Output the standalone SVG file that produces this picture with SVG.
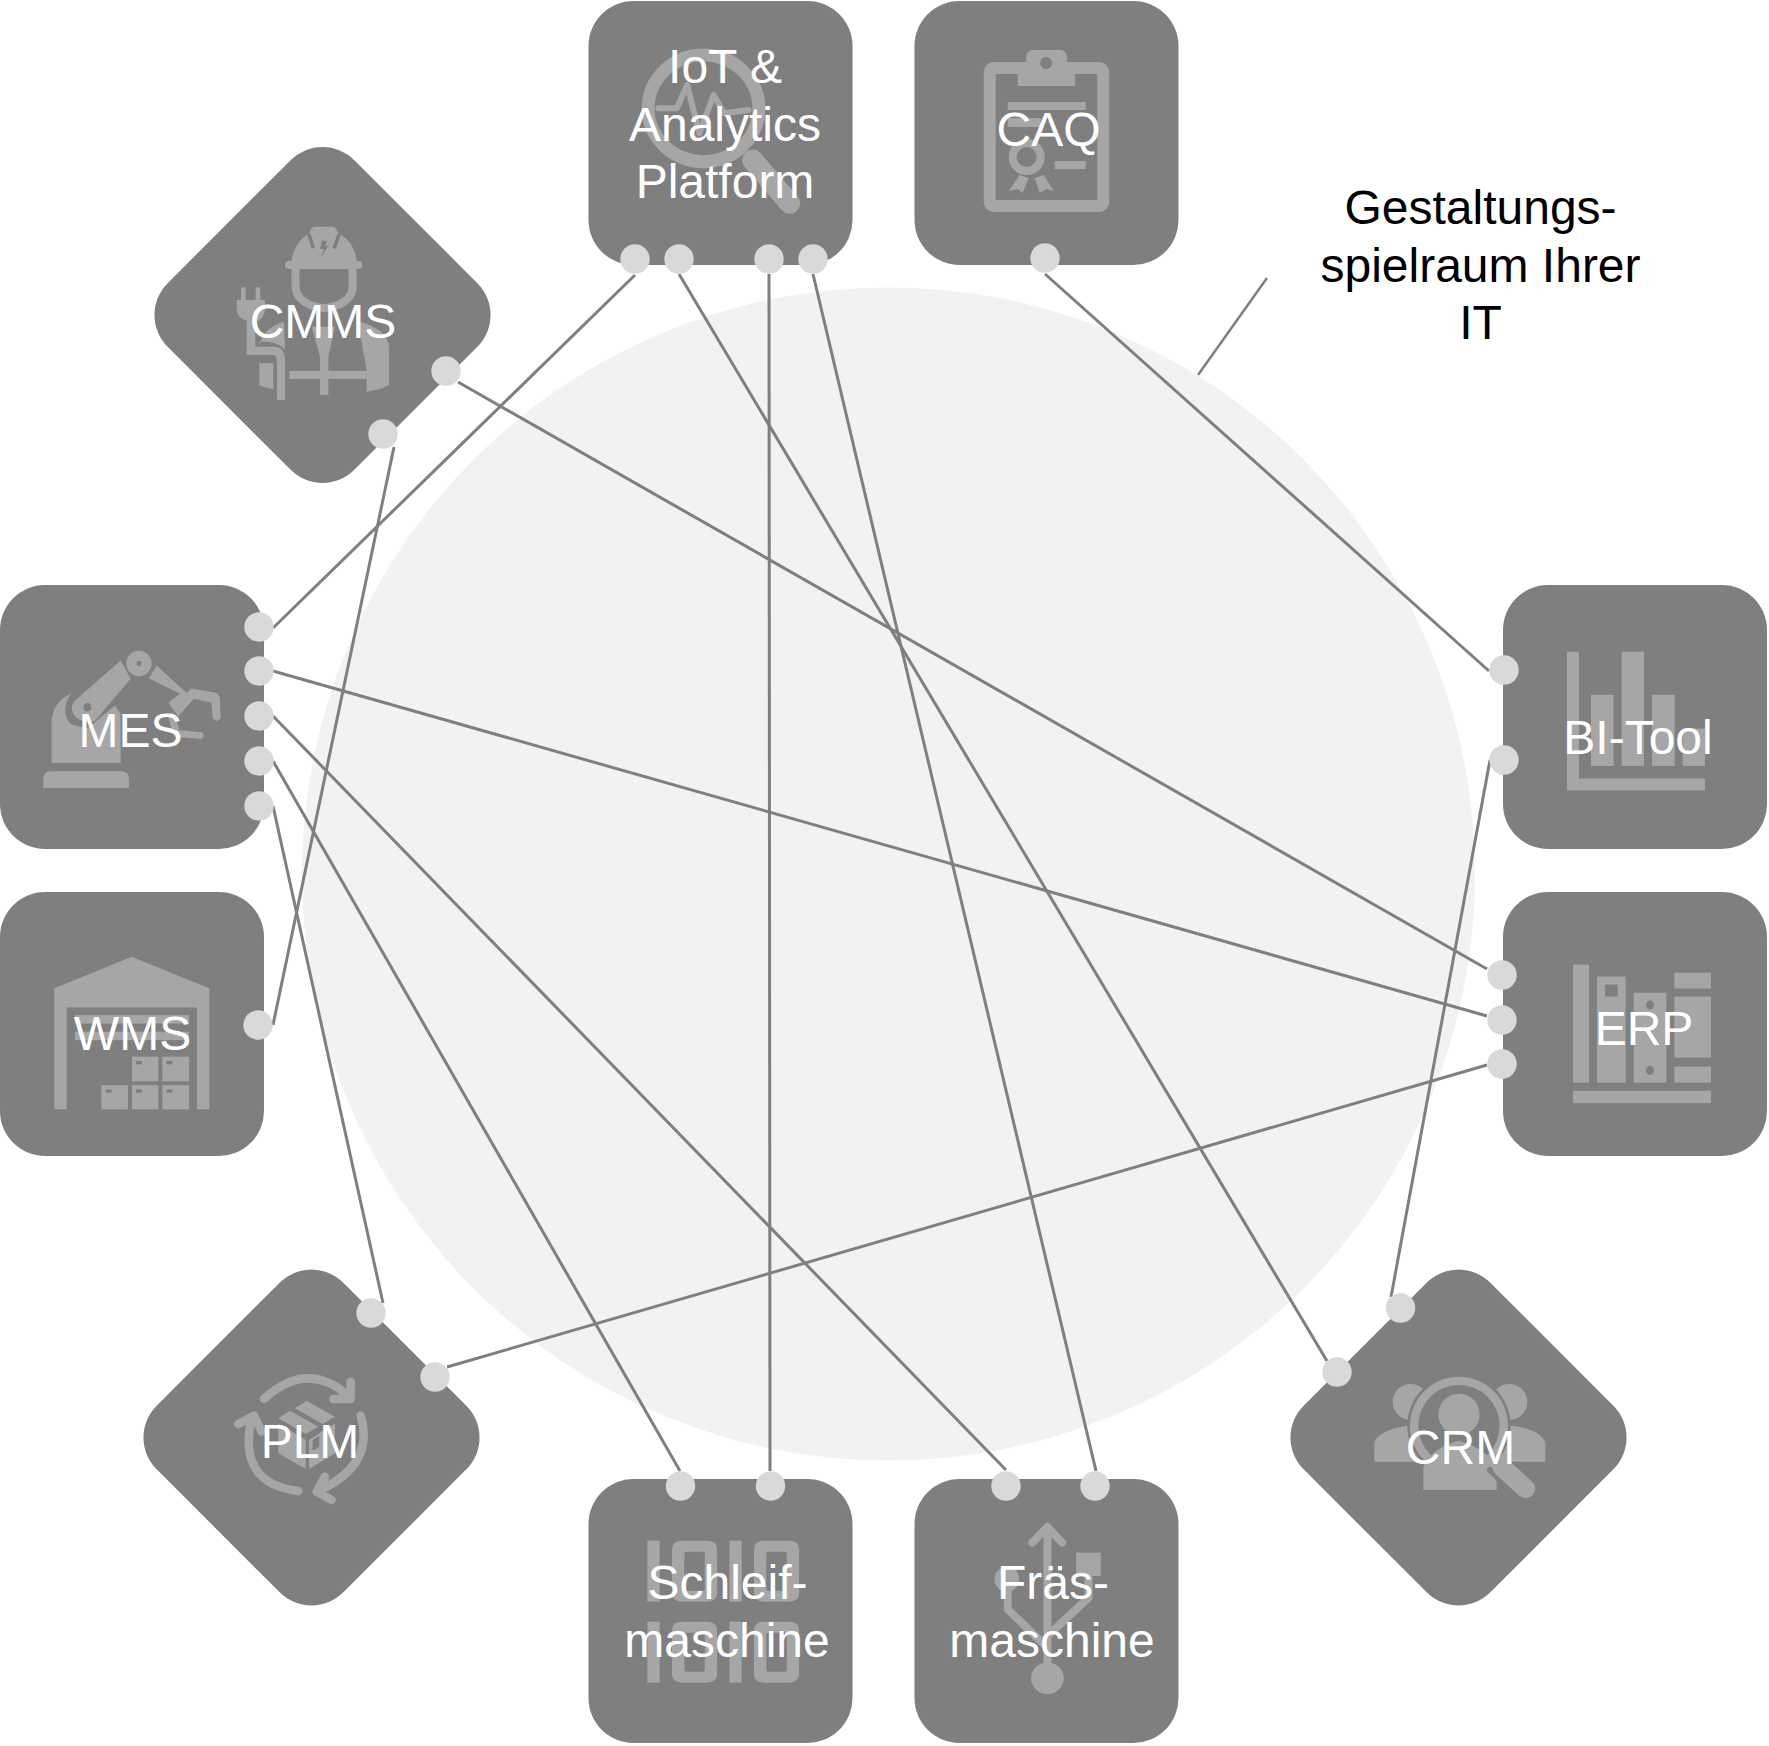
<svg xmlns="http://www.w3.org/2000/svg" width="1769" height="1746" viewBox="0 0 1769 1746">
<style>
.box{fill:#7f7f7f}
.dot{fill:#d9d9d9}
.conn line{stroke:#7f7f7f;stroke-width:3;fill:none}
.ico{fill:#a6a6a6}
.ico .s{fill:none;stroke:#a6a6a6;vector-effect:non-scaling-stroke;stroke-linecap:round;stroke-linejoin:round}
.ico .b{stroke-linecap:butt;stroke-linejoin:miter}
.ico .k{fill:#7f7f7f}
.ico .ks{fill:none;stroke:#7f7f7f;vector-effect:non-scaling-stroke}
text{font-family:"Liberation Sans",Arial,sans-serif;font-size:48px;text-anchor:middle}
.lbl{fill:#fff}
.ann{fill:#000}
</style>
<defs>
<rect id="sq" x="-132" y="-132" width="264" height="264" rx="45" ry="45"/>
<circle id="d" r="14.7"/>
</defs>
<circle id="scope" cx="888.5" cy="874" r="586.5" fill="#f2f2f2"/>
<g id="connectors" class="conn">
<line x1="635" y1="275" x2="273" y2="628"/>
<line x1="679" y1="274" x2="1327" y2="1361"/>
<line x1="769" y1="274" x2="770" y2="1471"/>
<line x1="813" y1="274" x2="1096" y2="1471"/>
<line x1="1045" y1="274" x2="1489" y2="671"/>
<line x1="458" y1="382" x2="1487" y2="969"/>
<line x1="394" y1="447" x2="273" y2="1025"/>
<line x1="273" y1="671" x2="1487" y2="1016"/>
<line x1="273" y1="716" x2="1006" y2="1470"/>
<line x1="273" y1="761" x2="680" y2="1471"/>
<line x1="273" y1="806" x2="383" y2="1303"/>
<line x1="447" y1="1367" x2="1487" y2="1065"/>
<line x1="1490" y1="760" x2="1391" y2="1297"/>
<line x1="1267" y1="278" x2="1198" y2="375" style="stroke-width:2.5"/>
</g>
<g id="node-iot">
<use href="#sq" class="box" x="720.5" y="133"/>
<g class="ico" transform="translate(560 0) scale(.41 .3333)">
<ellipse class="s" cx="350" cy="325" rx="135" ry="160" style="stroke-width:13"/>
<path class="s" style="stroke-width:6" d="M240 325H285L310 255L340 400L375 285L400 340L460 330"/>
<path class="s" style="stroke-width:21" d="M470 480L560 610"/>
</g>
<text class="lbl"><tspan x="725" y="83">IoT &amp;</tspan><tspan x="725" y="141">Analytics</tspan><tspan x="725" y="198">Platform</tspan></text>
<use href="#d" class="dot" x="635" y="259"/><use href="#d" class="dot" x="679" y="259"/><use href="#d" class="dot" x="769" y="259"/><use href="#d" class="dot" x="813" y="259"/>
</g>
<g id="node-caq">
<use href="#sq" class="box" x="1046.5" y="133"/>
<g class="ico" transform="translate(-2.300 0)">
<rect x="992" y="68" width="113.500" height="138" rx="4" style="fill:none;stroke:#a6a6a6;stroke-width:12"/>
<rect x="1028.500" y="50" width="41" height="20" rx="7"/>
<rect x="1020" y="62" width="57.500" height="24"/>
<circle class="k" cx="1048.500" cy="63" r="6"/>
<rect x="1010" y="102" width="78" height="8"/>
<rect x="1010" y="118" width="33" height="9"/>
<path d="M1022 175L1011 191L1020 189L1025 193L1031 178ZM1037 178L1042 193L1049 189L1056 191L1046 175Z"/>
<circle cx="1029" cy="157" r="18"/>
<circle class="k" cx="1029" cy="157" r="10"/>
<rect x="1057" y="161" width="31" height="8"/>
</g>
<text class="lbl" x="1048.500" y="146">CAQ</text>
<use href="#d" class="dot" x="1045" y="258"/>
</g>
<g id="node-cmms">
<use href="#sq" class="box" transform="translate(322.500 315) rotate(45)"/>
<g class="ico" transform="translate(130 130) scale(.3333)">
<rect x="465" y="393" width="232" height="24" rx="12"/>
<path d="M485 395C488 355 510 325 537 312L542 300Q545 290 556 290H606Q617 290 620 300L628 312C655 325 677 355 680 395Z"/>
<path class="ks" style="stroke-width:3.500" d="M537 312L550 355M628 312L612 355"/>
<path class="k" d="M576 332L570 358L582 356L574 382L596 346L585 349L592 332Z"/>
<path class="s b" style="stroke-width:8" d="M497 417V470C497 510 540 530 582 535C625 530 668 510 668 470V417"/>
<path d="M333 478a7 7 0 0 1 14 0V510H377V478a7 7 0 0 1 14 0V510H405V535Q405 570 376 575V650H430Q465 650 465 690V810H441V695Q441 675 430 675H350V572Q320 565 320 535V510H333Z"/>
<path d="M388 700H430V778Q400 772 388 765ZM388 650Q395 595 462 575L465 660Q450 640 415 635H388Z"/>
<path d="M545 590H615L595 680V795H570V680Z"/>
<rect x="478" y="723" width="232" height="24"/>
<path d="M690 575Q775 600 777 650V765Q750 780 710 785L710 720L690 610Z"/>
</g>
<text class="lbl" x="323" y="338">CMMS</text>
<use href="#d" class="dot" x="446" y="371"/><use href="#d" class="dot" x="383" y="434"/>
</g>
<g id="node-mes">
<use href="#sq" class="box" x="132" y="717"/>
<g class="ico" transform="translate(0 570) scale(.3333 .3846)">
<path d="M130 567V545Q130 523 152 523H365Q387 523 387 545V567Z"/>
<path d="M155 502V390C158 355 185 332 212 322C190 350 190 385 215 402L262 412L345 352L362 375V502Z"/>
<path d="M222 342L362 235L392 283L285 392Q260 400 230 385Q205 365 222 342Z"/>
<circle class="k" cx="262" cy="357" r="11"/>
<ellipse cx="417" cy="243" rx="38" ry="33"/>
<circle class="k" cx="417" cy="243" r="7"/>
<path d="M470 248L560 320L575 308L650 320Q660 325 660 340L662 385Q650 400 638 385L634 345L582 335L535 380L505 345L540 322L447 282Z"/>
<path class="s" style="stroke-width:7" d="M515 380L530 425L600 430"/>
</g>
<text class="lbl" x="130.500" y="747">MES</text>
<use href="#d" class="dot" x="259" y="627"/><use href="#d" class="dot" x="259" y="671"/><use href="#d" class="dot" x="259" y="716"/><use href="#d" class="dot" x="259" y="761"/><use href="#d" class="dot" x="259" y="806"/>
</g>
<g id="node-wms">
<use href="#sq" class="box" x="132" y="1024"/>
<g class="ico" transform="translate(0 569) scale(.3333 .3846)">
<path d="M163 1090L395 1008L628 1090V1405H591V1140H200V1405H163Z"/>
<rect x="225" y="1160" width="342" height="22"/><rect x="225" y="1203" width="342" height="22"/>
<rect x="396" y="1268" width="79" height="64"/><rect x="487" y="1268" width="80" height="64"/>
<rect x="304" y="1342" width="80" height="63"/><rect x="396" y="1342" width="79" height="63"/><rect x="487" y="1342" width="80" height="63"/>
<g class="k"><rect x="408" y="1279" width="18" height="9"/><rect x="499" y="1279" width="18" height="9"/><rect x="317" y="1353" width="18" height="9"/><rect x="408" y="1353" width="18" height="9"/><rect x="499" y="1353" width="18" height="9"/></g>
</g>
<text class="lbl" x="132.500" y="1050">WMS</text>
<use href="#d" class="dot" x="258" y="1025"/>
</g>
<g id="node-bi">
<use href="#sq" class="box" x="1635" y="717"/>
<g class="ico" transform="translate(1480 569) scale(.3333 .3846)">
<path d="M261 215H297V545H675V575H261Z"/>
<rect x="333" y="327" width="68" height="185"/><rect x="425" y="215" width="67" height="297"/><rect x="516" y="327" width="68" height="185"/><rect x="608" y="415" width="67" height="97"/>
</g>
<text class="lbl" x="1638" y="754">BI-Tool</text>
<use href="#d" class="dot" x="1504" y="670"/><use href="#d" class="dot" x="1504" y="760"/>
</g>
<g id="node-erp">
<use href="#sq" class="box" x="1635" y="1024"/>
<g class="ico" transform="translate(1480 568.500) scale(.3333 .3846)">
<rect x="279" y="1030" width="48" height="307"/>
<rect x="351" y="1061" width="86" height="276"/><rect class="k" x="375" y="1082" width="38" height="31"/>
<rect x="461" y="1103" width="98" height="234"/><circle class="k" cx="510" cy="1135" r="12"/><circle class="k" cx="510" cy="1305" r="12"/>
<rect x="583" y="1051" width="110" height="41"/><rect x="583" y="1113" width="110" height="159"/><rect x="583" y="1295" width="110" height="42"/>
<rect x="279" y="1358" width="414" height="32"/>
</g>
<text class="lbl" x="1644" y="1045">ERP</text>
<use href="#d" class="dot" x="1502" y="975"/><use href="#d" class="dot" x="1502" y="1020"/><use href="#d" class="dot" x="1502" y="1064"/>
</g>
<g id="node-plm">
<use href="#sq" class="box" transform="translate(311.500 1437.500) rotate(45)"/>
<g class="ico" transform="translate(130 1250) scale(.3333)">
<g style="stroke-width:8.500">
<path class="s" style="stroke-width:8.500" d="M402 447Q530 330 652 435M662 395V447H610"/>
<path class="s" style="stroke-width:8.500" d="M692 497Q735 640 575 718M585 680L560 725L605 750"/>
<path class="s" style="stroke-width:8.500" d="M505 723Q320 700 365 505M325 522L372 497L395 545"/>
</g>
<path d="M530 452L615 500L578 522L495 475ZM480 482L565 530L527 552L445 505ZM445 520L527 570V657L445 610ZM537 570L615 520V610L537 657Z"/>
<path class="k" d="M548 570L568 558V590L548 602Z"/>
</g>
<text class="lbl" x="310" y="1458">PLM</text>
<use href="#d" class="dot" x="371" y="1313"/><use href="#d" class="dot" x="435" y="1377"/>
</g>
<g id="node-schleif">
<use href="#sq" class="box" x="720.500" y="1611"/>
<g class="ico" transform="translate(569.500 1450) scale(.41 .3333)">
<rect x="190" y="272" width="30" height="183"/><rect x="390" y="272" width="30" height="183"/>
<rect x="190" y="515" width="30" height="183"/><rect x="390" y="515" width="30" height="183"/>
<path fill-rule="evenodd" d="M275 272H335Q360 272 360 297V430Q360 455 335 455H275Q250 455 250 430V297Q250 272 275 272ZM285 305Q280 305 280 310V417Q280 422 285 422H325Q330 422 330 417V310Q330 305 325 305Z"/>
<path fill-rule="evenodd" d="M475 272H535Q560 272 560 297V430Q560 455 535 455H475Q450 455 450 430V297Q450 272 475 272ZM485 305Q480 305 480 310V417Q480 422 485 422H525Q530 422 530 417V310Q530 305 525 305Z"/>
<path fill-rule="evenodd" d="M275 515H335Q360 515 360 540V673Q360 698 335 698H275Q250 698 250 673V540Q250 515 275 515ZM285 548Q280 548 280 553V660Q280 665 285 665H325Q330 665 330 660V553Q330 548 325 548Z"/>
<path fill-rule="evenodd" d="M475 515H535Q560 515 560 540V673Q560 698 535 698H475Q450 698 450 673V540Q450 515 475 515ZM485 548Q480 548 480 553V660Q480 665 485 665H525Q530 665 530 660V553Q530 548 525 548Z"/>
</g>
<text class="lbl"><tspan x="727.500" y="1599">Schleif-</tspan><tspan x="727" y="1657">maschine</tspan></text>
<use href="#d" class="dot" x="680.500" y="1486"/><use href="#d" class="dot" x="770.500" y="1486"/>
</g>
<g id="node-fraes">
<use href="#sq" class="box" x="1046.500" y="1611"/>
<g class="ico" transform="translate(569 1451) scale(.41 .3333)">
<path class="s" style="stroke-width:8" d="M1167 240V680M1130 275L1167 228L1203 275"/>
<ellipse cx="1167" cy="682" rx="40" ry="48"/>
<ellipse cx="1068" cy="385" rx="30" ry="38"/>
<rect x="1237" y="305" width="60" height="70"/>
<path class="s b" style="stroke-width:8" d="M1070 400V475L1167 590M1267 375V440L1167 555"/>
</g>
<text class="lbl"><tspan x="1053" y="1599">Fräs-</tspan><tspan x="1052" y="1657">maschine</tspan></text>
<use href="#d" class="dot" x="1006" y="1486"/><use href="#d" class="dot" x="1095" y="1486"/>
</g>
<g id="node-crm">
<use href="#sq" class="box" transform="translate(1458.500 1437.500) rotate(45)"/>
<g class="ico" transform="translate(1270 1250) scale(.3333)">
<circle cx="422" cy="456" r="54"/><circle cx="718" cy="456" r="54"/>
<path d="M313 635V575Q330 540 412 527H728Q810 540 826 575V635Z"/>
<circle class="k" cx="567" cy="527" r="155"/>
<circle cx="567" cy="527" r="147"/>
<circle class="k" cx="567" cy="527" r="122"/>
<circle cx="567" cy="493" r="62"/>
<path d="M460 720V650Q490 590 567 572Q640 590 680 650V720Z"/>
<path class="ks" style="stroke-width:6;stroke-linecap:round" d="M660 660L735 735"/>
<path class="s" style="stroke-width:19" d="M695 650L767 716"/>
</g>
<text class="lbl" x="1460.500" y="1464">CRM</text>
<use href="#d" class="dot" x="1400.500" y="1308"/><use href="#d" class="dot" x="1337" y="1372"/>
</g>
<text id="annotation" class="ann"><tspan x="1480.500" y="224">Gestaltungs-</tspan><tspan x="1480.500" y="282">spielraum Ihrer</tspan><tspan x="1480.500" y="339">IT</tspan></text>
</svg>
